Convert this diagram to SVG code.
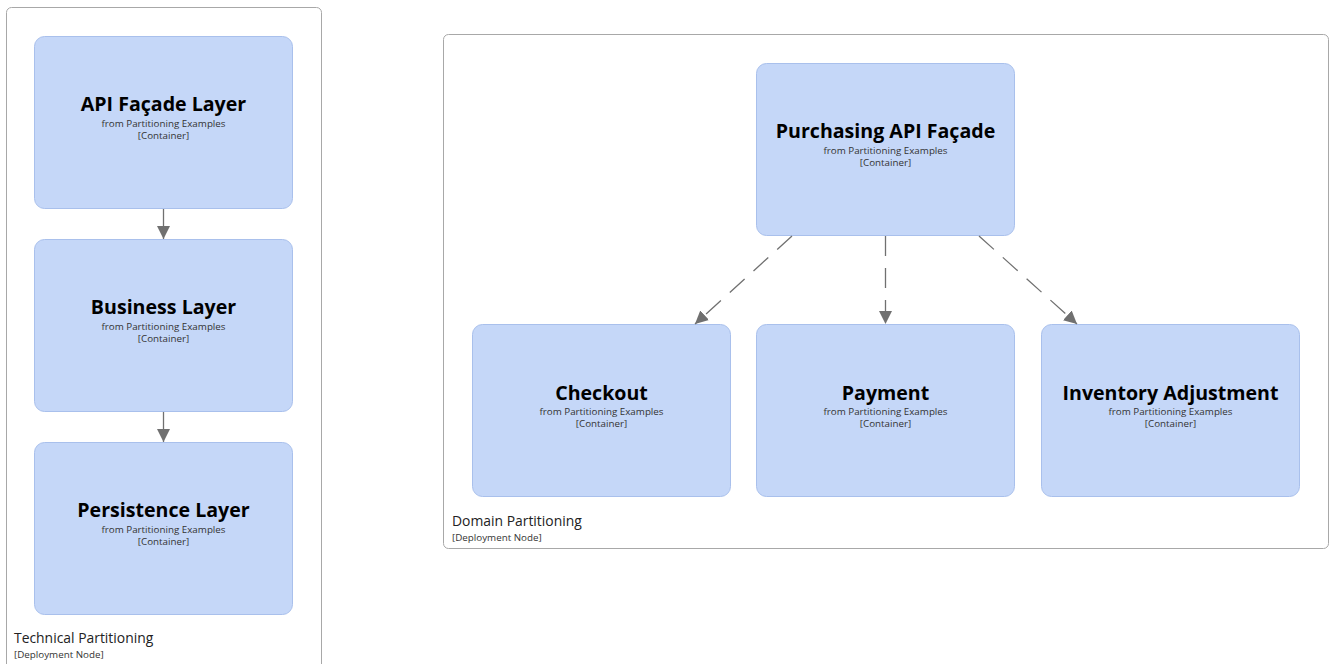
<svg xmlns="http://www.w3.org/2000/svg" width="1330" height="664" viewBox="0 0 1330 664">
<style>
.bound{fill:#ffffff;stroke:#a8a8a8;stroke-width:1}
.box{fill:#c5d7f8;stroke:#a9c0ec;stroke-width:1}
.t{font-family:"Open Sans","Noto Sans",sans-serif;font-weight:bold;font-size:19.6px;fill:#000;text-anchor:middle}
.s{font-family:"Open Sans","Noto Sans",sans-serif;font-size:9.8px;fill:#333;text-anchor:middle}
.bl{font-family:"Open Sans","Noto Sans",sans-serif;font-size:13.9px;fill:#222}
.bs{font-family:"Open Sans","Noto Sans",sans-serif;font-size:9.8px;fill:#333}
.edge{fill:none;stroke:#707070;stroke-width:1.3}
.dash{stroke-dasharray:20,12}
</style>
<defs>
<marker id="arr" viewBox="0 0 12 12" refX="12" refY="6" markerWidth="13" markerHeight="13" markerUnits="userSpaceOnUse" orient="auto">
<path d="M0,0 L12,6 L0,12 Z" fill="#707070"/>
</marker>
</defs>
<g id="technical-partitioning">
<rect class="bound" x="6.5" y="7.5" width="315" height="670" rx="5"/>
<text class="bl" x="14" y="643">Technical Partitioning</text>
<text class="bs" x="14" y="658">[Deployment Node]</text>
</g>
<g id="domain-partitioning">
<rect class="bound" x="443.5" y="34.5" width="885" height="514" rx="5"/>
<text class="bl" x="452" y="526">Domain Partitioning</text>
<text class="bs" x="452" y="541">[Deployment Node]</text>
</g>
<g id="api-facade-layer">
<rect class="box" x="34.5" y="36.5" width="258" height="172" rx="10"/>
<text class="t" x="163.5" y="111">API Façade Layer</text>
<text class="s" x="163.5" y="127">from Partitioning Examples</text>
<text class="s" x="163.5" y="139">[Container]</text>
</g>
<g id="business-layer">
<rect class="box" x="34.5" y="239.5" width="258" height="172" rx="10"/>
<text class="t" x="163.5" y="314">Business Layer</text>
<text class="s" x="163.5" y="330">from Partitioning Examples</text>
<text class="s" x="163.5" y="342">[Container]</text>
</g>
<g id="persistence-layer">
<rect class="box" x="34.5" y="442.5" width="258" height="172" rx="10"/>
<text class="t" x="163.5" y="517">Persistence Layer</text>
<text class="s" x="163.5" y="533">from Partitioning Examples</text>
<text class="s" x="163.5" y="545">[Container]</text>
</g>
<g id="purchasing-api-facade">
<rect class="box" x="756.5" y="63.5" width="258" height="172" rx="10"/>
<text class="t" x="885.5" y="138">Purchasing API Façade</text>
<text class="s" x="885.5" y="154">from Partitioning Examples</text>
<text class="s" x="885.5" y="166">[Container]</text>
</g>
<g id="checkout">
<rect class="box" x="472.5" y="324.5" width="258" height="172" rx="10"/>
<text class="t" x="601.5" y="400">Checkout</text>
<text class="s" x="601.5" y="415">from Partitioning Examples</text>
<text class="s" x="601.5" y="427">[Container]</text>
</g>
<g id="payment">
<rect class="box" x="756.5" y="324.5" width="258" height="172" rx="10"/>
<text class="t" x="885.5" y="400">Payment</text>
<text class="s" x="885.5" y="415">from Partitioning Examples</text>
<text class="s" x="885.5" y="427">[Container]</text>
</g>
<g id="inventory-adjustment">
<rect class="box" x="1041.5" y="324.5" width="258" height="172" rx="10"/>
<text class="t" x="1170.5" y="400">Inventory Adjustment</text>
<text class="s" x="1170.5" y="415">from Partitioning Examples</text>
<text class="s" x="1170.5" y="427">[Container]</text>
</g>
<g id="connectors">
<line class="edge" x1="163.5" y1="209" x2="163.5" y2="239" marker-end="url(#arr)"/>
<line class="edge" x1="163.5" y1="412" x2="163.5" y2="442" marker-end="url(#arr)"/>
<line class="edge dash" x1="792" y1="236" x2="695" y2="324" marker-end="url(#arr)"/>
<line class="edge dash" x1="885.5" y1="236" x2="885.5" y2="324" marker-end="url(#arr)"/>
<line class="edge dash" x1="979" y1="236" x2="1077" y2="324" marker-end="url(#arr)"/>
</g>
</svg>
